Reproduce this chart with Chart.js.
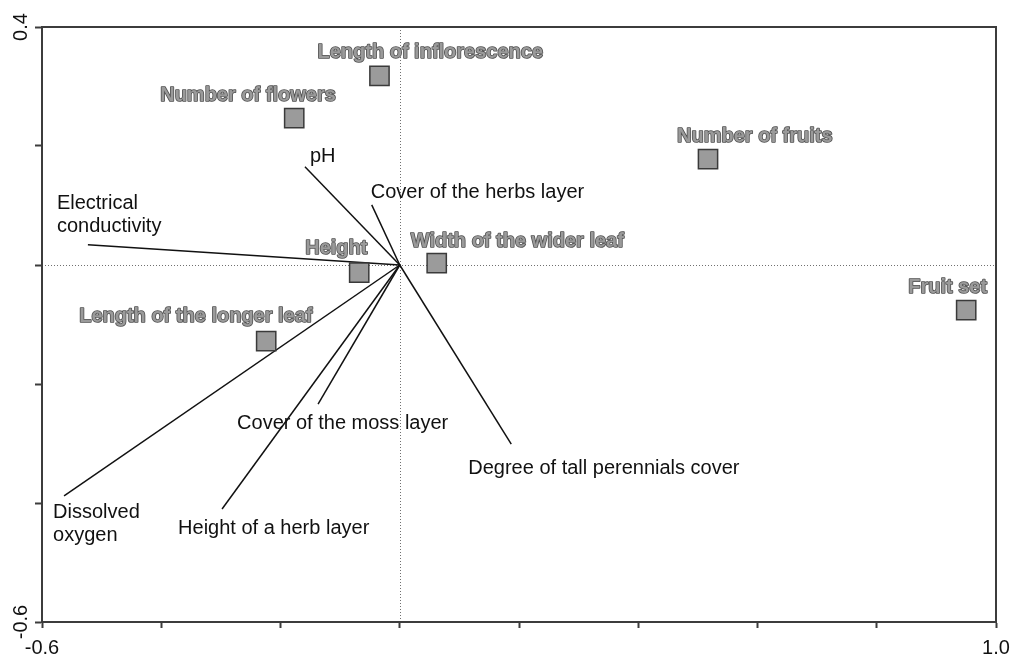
<!DOCTYPE html>
<html>
<head>
<meta charset="utf-8">
<title>RDA biplot</title>
<script src="https://cdn.jsdelivr.net/npm/chart.js@4.4.1/dist/chart.umd.min.js"></script>
<style>
  html, body { margin: 0; padding: 0; background: #ffffff; }
  canvas { display: block; }
</style>
</head>
<body>
<canvas id="biplot" width="1014" height="657"></canvas>
<script>
//data - plant traits (squares)
const traitNames = ['Length of inflorescence', 'Number of flowers', 'Number of fruits', 'Height',
    'Width of the wider leaf', 'Fruit set', 'Length of the longer leaf'];
const traitX = [-0.034, -0.177, 0.517, -0.068, 0.062, 0.950, -0.224];
const traitY = [0.318, 0.247, 0.178, -0.013, 0.003, -0.076, -0.128];

//data - environmental variables (lines from the origin)
const envNames = [['pH'], ['Cover of the herbs layer'], ['Electrical', 'conductivity'], ['Cover of the moss layer'],
    ['Degree of tall perennials cover'], ['Dissolved', 'oxygen'], ['Height of a herb layer']];
const envX = [-0.159, -0.047, -0.523, -0.137, 0.187, -0.563, -0.298];
const envY = [0.165, 0.101, 0.034, -0.234, -0.301, -0.388, -0.410];

//axes (only the end values are labelled)
const xRange = [-0.6, 1.0];
const yRange = [-0.6, 0.4];
const tickStep = 0.2;

//label placement, pixels from the mark (left edge / baseline)
const traitLabelOffset = [[-62, -18], [-134, -17], [-31, -17], [-54, -19], [-26, -16], [-58, -17], [-187, -19]];
const envLabelOffset = [[5, -5], [-1, -7], [-31, -36], [-81, 25], [-43, 30], [-11, 22], [-44, 25]];

//color
const squareFill   = '#9b9b9b';
const squareLine   = '#3a3a3a';
const traitText    = '#9a9a9a';
const traitOutline = '#505050';
const lineColor    = '#111111';
const axisColor    = '#3c3c3c';
const zeroColor    = '#707070';

//font
const fontFamily = '"Liberation Sans", Arial, sans-serif';

/* datasets */
const traitData = traitX.map((x, i) => ({ x: x, y: traitY[i] }));
const datasets = [{
    label: 'traits',
    data: traitData,
    pointStyle: 'rect',
    pointRadius: 13.6,
    backgroundColor: squareFill,
    borderColor: squareLine,
    borderWidth: 1.5,
    showLine: false,
}];
envX.forEach((x, i) => {
    datasets.push({
        label: envNames[i].join(' '),
        data: [{ x: 0, y: 0 }, { x: x, y: envY[i] }],
        showLine: true,
        borderColor: lineColor,
        borderWidth: 1.5,
        pointRadius: 0,
    });
});

/* zero lines, frame and labels */
const biplotLabels = {
    id: 'biplotLabels',
    beforeDatasetsDraw(chart) {
        const { ctx, chartArea, scales } = chart;
        const x0 = Math.round(scales.x.getPixelForValue(0)) + 0.5;
        const y0 = Math.round(scales.y.getPixelForValue(0)) + 0.5;
        ctx.save();
        ctx.strokeStyle = zeroColor;
        ctx.lineWidth = 1;
        ctx.setLineDash([1, 2]);
        ctx.beginPath();
        ctx.moveTo(x0, chartArea.top);
        ctx.lineTo(x0, chartArea.bottom);
        ctx.moveTo(chartArea.left, y0);
        ctx.lineTo(chartArea.right, y0);
        ctx.stroke();
        ctx.restore();
    },
    afterDatasetsDraw(chart) {
        const { ctx, chartArea, scales } = chart;
        ctx.save();

        // frame
        ctx.strokeStyle = axisColor;
        ctx.lineWidth = 2;
        ctx.strokeRect(chartArea.left, chartArea.top, chartArea.right - chartArea.left, chartArea.bottom - chartArea.top);

        // axis end labels
        ctx.fillStyle = lineColor;
        ctx.font = '20px ' + fontFamily;
        ctx.textAlign = 'center';
        ctx.textBaseline = 'alphabetic';
        xRange.forEach(v => {
            ctx.fillText(v.toFixed(1), scales.x.getPixelForValue(v), chartArea.bottom + 32);
        });
        [yRange[1], yRange[0]].forEach(v => {
            ctx.save();
            ctx.translate(chartArea.left - 15, scales.y.getPixelForValue(v));
            ctx.rotate(-Math.PI / 2);
            ctx.fillText(v.toFixed(1), 0, 0);
            ctx.restore();
        });

        // environmental labels
        ctx.textAlign = 'left';
        envNames.forEach((lines, i) => {
            const px = scales.x.getPixelForValue(envX[i]) + envLabelOffset[i][0];
            const py = scales.y.getPixelForValue(envY[i]) + envLabelOffset[i][1];
            lines.forEach((t, j) => ctx.fillText(t, px, py + j * 23));
        });

        // trait labels, grey with dark outline
        ctx.font = 'bold 20px ' + fontFamily;
        ctx.lineJoin = 'round';
        ctx.lineWidth = 1.6;
        ctx.strokeStyle = traitOutline;
        ctx.fillStyle = traitText;
        traitNames.forEach((t, i) => {
            const px = scales.x.getPixelForValue(traitX[i]) + traitLabelOffset[i][0];
            const py = scales.y.getPixelForValue(traitY[i]) + traitLabelOffset[i][1];
            ctx.strokeText(t, px, py);
            ctx.fillText(t, px, py);
        });
        ctx.restore();
    }
};

var ctx = document.getElementById('biplot').getContext('2d');
new Chart(ctx, {
    type: 'scatter',
    data: { datasets: datasets },
    plugins: [biplotLabels],
    options: {
        responsive: false,
        animation: false,
        events: [],
        layout: {
            padding: { top: 27, right: 18, left: 0, bottom: 0 }
        },
        plugins: {
            legend: { display: false },
            tooltip: { enabled: false },
        },
        scales: {
            x: {
                type: 'linear',
                min: xRange[0],
                max: xRange[1],
                afterFit: (scale) => { scale.height = 35; },
                ticks: {
                    stepSize: tickStep,
                    display: false,
                },
                grid: {
                    drawOnChartArea: false,
                    drawTicks: true,
                    tickLength: 6,
                    tickColor: axisColor,
                    tickWidth: 2,
                },
                border: { color: axisColor, width: 2 },
            },
            y: {
                type: 'linear',
                min: yRange[0],
                max: yRange[1],
                afterFit: (scale) => { scale.width = 42; },
                ticks: {
                    stepSize: tickStep,
                    display: false,
                },
                grid: {
                    drawOnChartArea: false,
                    drawTicks: true,
                    tickLength: 7,
                    tickColor: axisColor,
                    tickWidth: 2,
                },
                border: { color: axisColor, width: 2 },
            }
        }
    }
});
</script>
</body>
</html>
